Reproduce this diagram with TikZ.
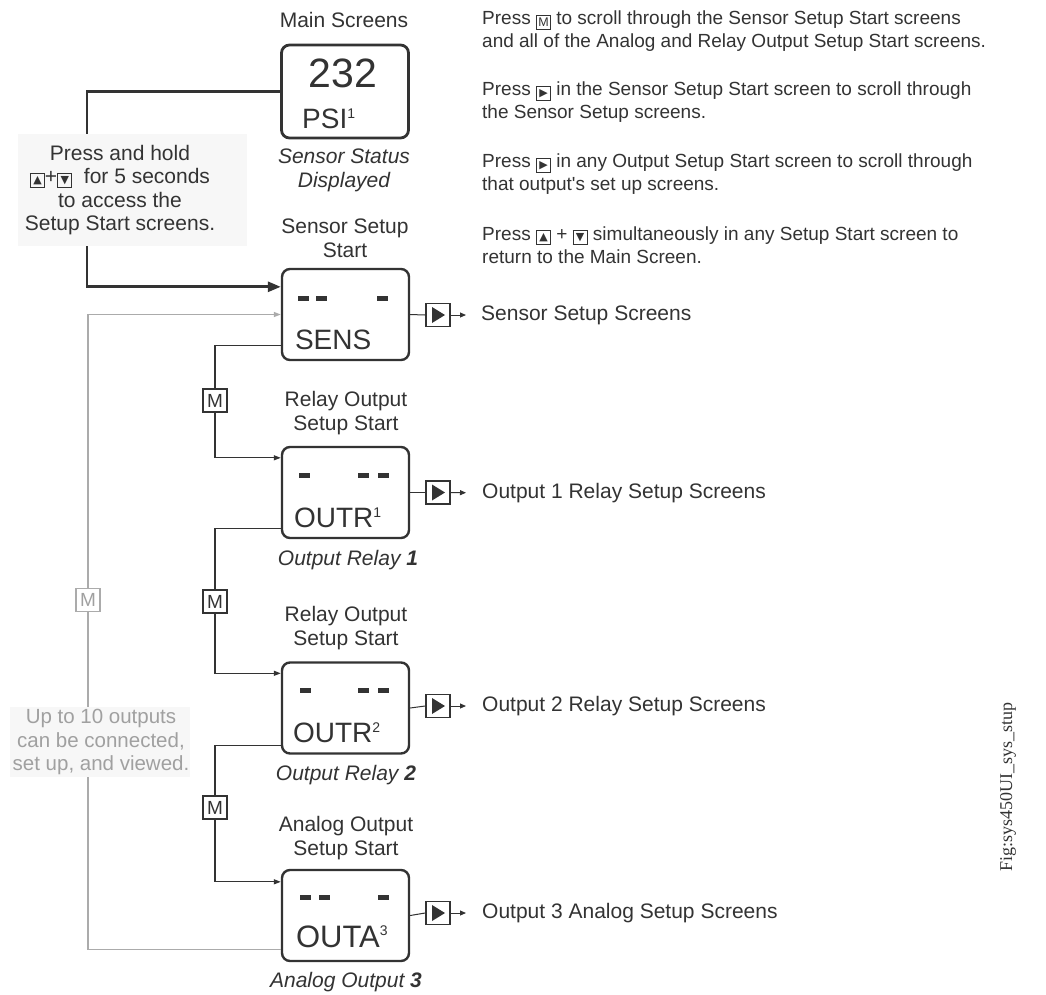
\documentclass[tikz,border=0pt]{standalone}
\usepackage{fontspec}
\setmainfont{Liberation Sans}
\newfontfamily\dejavu{DejaVu Sans}
\newfontfamily\figfont{Liberation Serif}
\usetikzlibrary{arrows.meta,calc}
\definecolor{ink}{HTML}{333333}
\definecolor{ghost}{HTML}{ABABAB}
\definecolor{ghosttext}{HTML}{A0A0A0}
\definecolor{notebg}{HTML}{F7F7F7}
\newcommand{\fs}[2]{\fontsize{#1}{#2}\selectfont}
\newcommand{\kbox}[1]{\raisebox{-2pt}{\setlength{\fboxsep}{0pt}\setlength{\fboxrule}{1pt}\fbox{\parbox[c][13pt][c]{13pt}{\centering #1}}}}
\newcommand{\kup}{\kbox{\dejavu\fs{11}{11}▲}}
\newcommand{\kdn}{\kbox{\dejavu\fs{11}{11}▼}}
\newcommand{\krt}{\kbox{\dejavu\fs{11}{11}▶}}
\newcommand{\km}{\kbox{\fs{12.5}{12.5}M}}
\newcommand{\supn}[2]{\raisebox{#1}{\fs{14}{14}#2}}
\begin{document}
\begin{tikzpicture}[x=1pt,y=-1pt,
  every node/.style={text=ink, inner sep=0pt},
  screen/.style={draw=ink, line width=2.4pt, rounded corners=8pt, minimum width=127pt, minimum height=91pt},
  disp/.style={font=\fs{28}{28}, anchor=base west},
  lab/.style={font=\fs{21}{24}, align=center},
  italcap/.style={font=\fs{21}{24}\itshape, align=center},
  para/.style={font=\fs{19}{23}, align=left, anchor=west},
  wire/.style={draw=ink, line width=1.3pt},
  smallarrow/.style={-{Triangle[length=7pt,width=5pt]}},
  mkey/.style={draw=ink, line width=1.5pt, fill=white, minimum width=24pt, minimum height=23pt, font=\fs{19}{19}},
  pkey/.style={draw=ink, line width=1.8pt, fill=white, minimum width=24pt, minimum height=23pt},
  outtext/.style={anchor=west, font=\fs{21}{24}},
]
\fill[white] (0,0) rectangle (1046,994);
\useasboundingbox (0,0) rectangle (1046,994);

% columns
\coordinate (ck) at (87,0);
\coordinate (cg) at (88,0);

% screens
\node[screen, line width=2.8pt, minimum height=93pt] (main) at (345,91.5) {};
\node[screen] (sens) at (345.5,314.5) {};
\node[screen] (r1) at (345.5,492.5) {};
\node[screen] (r2) at (345.5,708) {};
\node[screen] (an) at (345.5,915.5) {};

% main screen content
\node[font=\fs{41}{41}, anchor=base] (mv) at (343,87) {232};
\node[disp] (mu) at (302,128) {PSI\supn{10pt}{1}};

% sensor content
\foreach \dx in {17,35,96} \fill[ink] ($(sens.north west)+(\dx,28)$) rectangle ++(11,5);
\node[disp] (st) at ($(sens.north west)+(14,82)$) {SENS};
% relay 1
\foreach \dx in {18,77,97} \fill[ink] ($(r1.north west)+(\dx,27)$) rectangle ++(11,5);
\node[disp] (r1t) at ($(r1.north west)+(13,82)$) {OUTR\supn{10pt}{1}};
% relay 2
\foreach \dx in {19,77,97} \fill[ink] ($(r2.north west)+(\dx,27)$) rectangle ++(11,5);
\node[disp] (r2t) at ($(r2.north west)+(12,81)$) {OUTR\supn{10pt}{2}};
% analog
\foreach \dx in {19,38,97} \fill[ink] ($(an.north west)+(\dx,26)$) rectangle ++(11,5);
\node[disp, font=\fs{31}{31}] (ant) at ($(an.north west)+(15,79)$) {OUTA\supn{12pt}{3}};

% labels
\node[lab] (lmain) at (344,20) {Main Screens};
\node[italcap] (cmain) at (344,170) {Sensor Status\\Displayed};
\node[lab] (lsens) at (345,238) {Sensor Setup\\Start};
\node[lab] (lr1) at (346,413.5) {Relay Output\\Setup Start};
\node[italcap] (cr1) at (348,560) {Output Relay \textbf{1}};
\node[lab] (lr2) at (346,628.5) {Relay Output\\Setup Start};
\node[italcap] (cr2) at (346,775) {Output Relay \textbf{2}};
\node[lab] (lan) at (346,838) {Analog Output\\Setup Start};
\node[italcap] (can) at (346,982) {Analog Output \textbf{3}};

% play buttons
\foreach \n/\y in {bs/315, b1/492.5, b2/706, b3/913}{
  \node[pkey] (\n) at (438,\y) {};
  \fill[ink] ($(\n.center)+(-6,-8)$) -- ++(0,16) -- ++(13,-8) -- cycle;
}
\node[outtext] (ts) at (481,315) {Sensor Setup Screens};
\node[outtext] (t1) at (482,493) {Output 1 Relay Setup Screens};
\node[outtext] (t2) at (482,706) {Output 2 Relay Setup Screens};
\node[outtext] (t3) at (482,913) {Output 3 Analog Setup Screens};

\draw[wire, line width=1pt] (sens.east) -- (bs.west);
\draw[wire, line width=1pt] (r1.east) -- (b1.west);
\draw[wire, line width=1pt] (r2.east) -- (b2.west);
\draw[wire, line width=1pt] (an.east) -- (b3.west);
\draw[wire, line width=1pt, -{Triangle[length=6pt,width=5pt]}, shorten >=15pt] (bs.east) -- (ts.west);
\draw[wire, line width=1pt, -{Triangle[length=6pt,width=5pt]}, shorten >=16pt] (b1.east) -- (t1.west);
\draw[wire, line width=1pt, -{Triangle[length=6pt,width=5pt]}, shorten >=16pt] (b2.east) -- (t2.west);
\draw[wire, line width=1pt, -{Triangle[length=6pt,width=5pt]}, shorten >=16pt] (b3.east) -- (t3.west);

% M keys
\node[mkey] (m1) at (215,400.5) {M};
\node[mkey] (m2) at (215,601.5) {M};
\node[mkey] (m3) at (215,807.5) {M};
\node[mkey, draw=ghost, text=ghosttext] (mg) at (88,600) {M};

\draw[wire] ($(sens.north west)+(0,78)$) -| (m1.north);
\draw[wire, smallarrow] (m1.south) |- ($(r1.north west)+(0,12)$);
\draw[wire] ($(r1.north west)+(0,83)$) -| (m2.north);
\draw[wire, smallarrow] (m2.south) |- ($(r2.north west)+(0,12)$);
\draw[wire] ($(r2.north west)+(0,84)$) -| (m3.north);
\draw[wire, smallarrow] (m3.south) |- ($(an.north west)+(0,13)$);

% left note (hold)
\node[fill=notebg, minimum width=229pt, minimum height=112pt] (note1) at (132.5,190) {};
\node[font=\fs{21}{23.5}, align=center] (note1t) at (120,190) {Press and hold\\\kup+\kdn\ \ for 5 seconds\\to access the\\Setup Start screens.};
\draw[ink, line width=2.8pt] (main.west) -| (note1.north -| ck);
\draw[ink, line width=2.8pt, -{Triangle[length=13pt,width=10pt]}] (note1.south -| ck) |- ($(sens.north west)+(0,19)$);

% grey loop
\node[fill=notebg, minimum width=180pt, minimum height=70pt] (note2) at (100,742) {};
\node[font=\fs{20.5}{23.5}, align=center, text=ghosttext] (note2t) at (101,742) {Up to 10 outputs\\can be connected,\\set up, and viewed.};
\draw[draw=ghost, line width=1.3pt] ($(an.north west)+(0,81)$) -| (note2.south -| cg);
\draw[draw=ghost, line width=1.3pt] (note2.north -| cg) -- (mg.south);
\draw[draw=ghost, line width=1.3pt, smallarrow] (mg.north) |- (sens.west);

% instructions
\node[para] (p1) at (482,31.5) {Press \km\ to scroll through the Sensor Setup Start screens\\and all of the Analog and Relay Output Setup Start screens.};
\node[para] (p2) at (482,102.5) {Press \krt\ in the Sensor Setup Start screen to scroll through\\the Sensor Setup screens.};
\node[para] (p3) at (482,174.5) {Press \krt\ in any Output Setup Start screen to scroll through\\that output\textquotesingle s set up screens.};
\node[para] (p4) at (482,245) {Press \kup\ + \kdn\ simultaneously in any Setup Start screen to\\return to the Main Screen.};

% figure tag
\node[rotate=90, font=\figfont\fs{18}{18}] (fig) at (1008,787) {Fig:sys450UI\_sys\_stup};
\end{tikzpicture}
\end{document}
